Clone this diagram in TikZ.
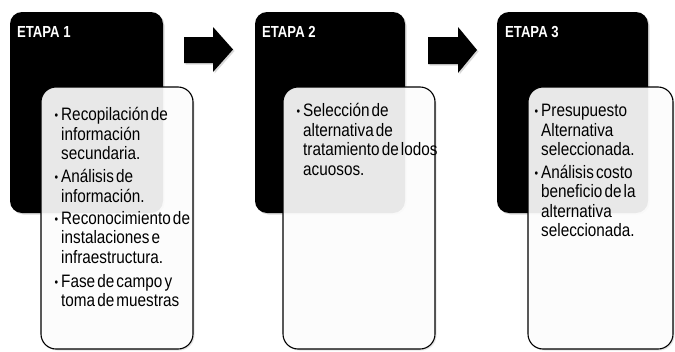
\documentclass[tikz,border=0pt]{standalone}
\usepackage{fontspec}
\setmainfont{Liberation Sans}[FakeStretch=0.85,WordSpace=0.5]
\newfontfamily\etapafont{Liberation Sans}[FakeStretch=0.82]
\usetikzlibrary{shadows}
\tikzset{
  blackbox/.style={fill=black, rounded corners=12pt, inner sep=0pt, outer sep=0pt,
    anchor=north west, minimum width=153pt, minimum height=201pt,
    drop shadow={opacity=0.3, shadow xshift=1.5pt, shadow yshift=-1.5pt}},
  whitebox/.style={draw=black, line width=1.1pt, fill=white, fill opacity=0.9,
    rounded corners=15pt, inner sep=0pt, outer sep=0pt, anchor=north west,
    minimum height=262pt,
    drop shadow={opacity=0.2, shadow xshift=1.5pt, shadow yshift=-1.5pt}},
  body/.style={font=\fontsize{18}{20}\selectfont, inner sep=0pt, anchor=base west, text=black},
  etapa/.style={font=\etapafont\bfseries\fontsize{16}{18}\selectfont, text=white,
    inner sep=0pt, anchor=base west},
  arrowshape/.style={fill=black, drop shadow={opacity=0.3, shadow xshift=1.5pt, shadow yshift=-1.5pt}}
}
\newcommand{\bulmark}{\makebox[6.5pt][l]{\raisebox{0.5pt}{\fontsize{12}{12}\selectfont •}}}
\newcommand{\itemline}[4]{\node[body] (#1) at (#2,#3) {\bulmark#4};}
\newcommand{\contline}[4]{\node[body] (#1) at (#2+6.5,#3) {#4};}
\begin{document}
\begin{tikzpicture}[x=1pt,y=-1pt]
\useasboundingbox (0,0) rectangle (675,351);
% panel 1
\node[blackbox] (b1) at (10,12) {};
\node[etapa] (e1) at (17,37) {ETAPA 1};
\node[whitebox, minimum width=152pt] (w1) at (41,87) {};
\itemline{p1a}{54.5}{120}{Recopilación de}
\contline{p1b}{54.5}{140}{información}
\contline{p1c}{54.5}{159}{secundaria.}
\itemline{p1d}{54.5}{182}{Análisis de}
\contline{p1e}{54.5}{202}{información.}
\itemline{p1f}{54.5}{224}{Reconocimiento de}
\contline{p1g}{54.5}{243}{instalaciones e}
\contline{p1h}{54.5}{263}{infraestructura.}
\itemline{p1i}{54.5}{287}{Fase de campo y}
\contline{p1j}{54.5}{306}{toma de muestras}
% arrow 1
\fill[arrowshape] (184,37) -- (213,37) -- (213,27) -- (233,49.5) -- (213,72) -- (213,63) -- (184,63) -- cycle;
% panel 2
\node[blackbox, minimum width=150pt] (b2) at (255,12) {};
\node[etapa] (e2) at (262,37) {ETAPA 2};
\node[whitebox, minimum width=152pt] (w2) at (283,87) {};
\itemline{p2a}{296.5}{116}{Selección de}
\contline{p2b}{296.5}{136}{alternativa de}
\contline{p2c}{296.5}{155}{tratamiento de lodos}
\contline{p2d}{296.5}{175}{acuosos.}
% arrow 2
\fill[arrowshape] (428,37) -- (458,37) -- (458,27) -- (477,50) -- (458,73) -- (458,64) -- (428,64) -- cycle;
% panel 3
\node[blackbox, minimum width=151pt] (b3) at (497,12) {};
\node[etapa] (e3) at (505,37) {ETAPA 3};
\node[whitebox, minimum width=145pt] (w3) at (528,87) {};
\itemline{p3a}{534.5}{116}{Presupuesto}
\contline{p3b}{534.5}{136}{Alternativa}
\contline{p3c}{534.5}{155}{seleccionada.}
\itemline{p3d}{534.5}{178}{Análisis costo}
\contline{p3e}{534.5}{197}{beneficio de la}
\contline{p3f}{534.5}{217}{alternativa}
\contline{p3g}{534.5}{236}{seleccionada.}
\end{tikzpicture}
\end{document}
